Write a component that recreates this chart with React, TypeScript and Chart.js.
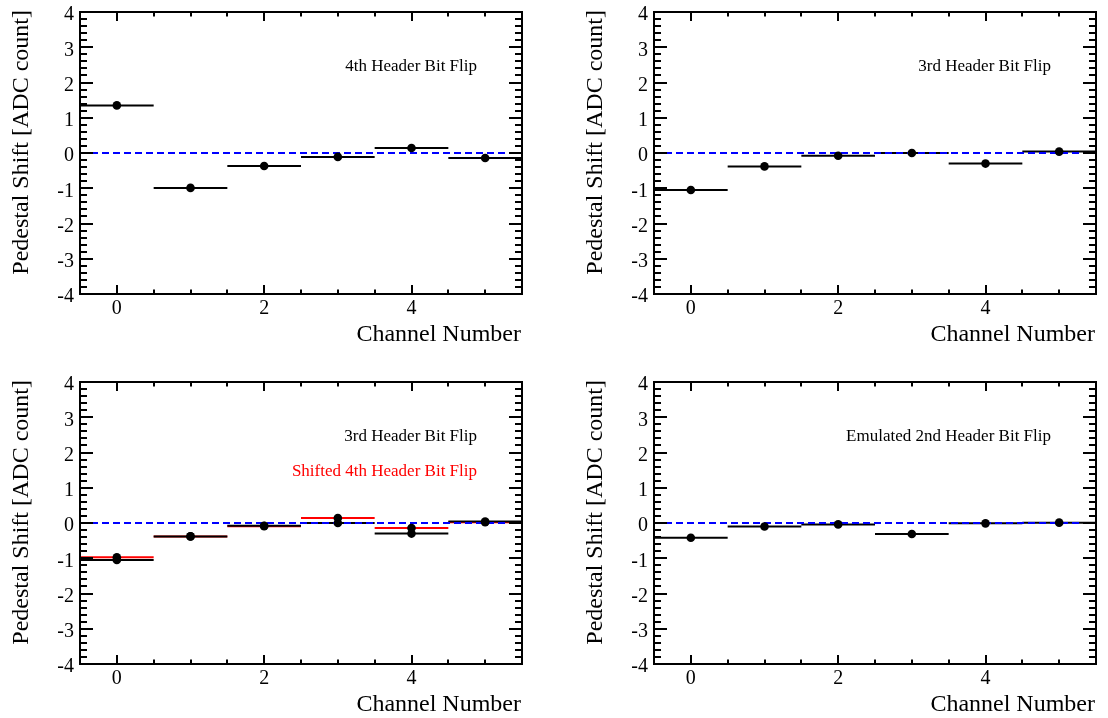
import React, { useEffect, useRef } from 'react';
import { Chart, registerables } from 'chart.js';

Chart.register(...registerables);

// ---------- data ----------
const channels = [0, 1, 2, 3, 4, 5];
const flip4th = [1.35, -0.99, -0.37, -0.11, 0.14, -0.14];
const flip3rd = [-1.05, -0.38, -0.08, 0.0, -0.3, 0.04];
const shifted4th = [-0.97, -0.38, -0.09, 0.14, -0.14, 0.02];
const emulated2nd = [-0.42, -0.1, -0.04, -0.31, -0.01, 0.01];
const xTickLabels = [0, 2, 4];
const yTickLabels = [-4, -3, -2, -1, 0, 1, 2, 3, 4];
const xHalfWidth = 0.5;
const xRange = [-0.5, 5.5];
const yRange = [-4, 4];
const xTitle = 'Channel Number';
const yTitle = 'Pedestal Shift [ADC count]';

const FONT = "'Liberation Serif', 'Times New Roman', serif";

type Series = { values: number[]; color: string; label: string };
type PanelCfg = { left: number; top: number; series: Series[] };

const panels: PanelCfg[] = [
  { left: 0, top: 0, series: [{ values: flip4th, color: '#000000', label: '4th Header Bit Flip' }] },
  { left: 574, top: 0, series: [{ values: flip3rd, color: '#000000', label: '3rd Header Bit Flip' }] },
  {
    left: 0,
    top: 370,
    series: [
      { values: flip3rd, color: '#000000', label: '3rd Header Bit Flip' },
      { values: shifted4th, color: '#ff0000', label: 'Shifted 4th Header Bit Flip' },
    ],
  },
  { left: 574, top: 370, series: [{ values: emulated2nd, color: '#000000', label: 'Emulated 2nd Header Bit Flip' }] },
];

const segments = (vals: number[]) =>
  vals.flatMap((v, i) => [
    { x: channels[i] - xHalfWidth, y: v },
    { x: channels[i] + xHalfWidth, y: v },
    { x: channels[i] + xHalfWidth, y: null as any },
  ]);

const rootStyle = {
  id: 'rootStyle',
  afterDraw(chart: any, _args: any, opts: any) {
    const { ctx, chartArea: a } = chart;
    const x = chart.scales.x;
    const y = chart.scales.y;
    ctx.save();
    ctx.strokeStyle = '#000';
    ctx.lineWidth = 2;
    ctx.beginPath();
    // y ticks (left and right)
    for (let i = 0; i <= 40; i++) {
      const v = yRange[0] + i * 0.2;
      const major = i % 5 === 0;
      const len = major ? 13 : 7;
      const py = Math.round(y.getPixelForValue(v));
      ctx.moveTo(a.left, py);
      ctx.lineTo(a.left + len, py);
      ctx.moveTo(a.right, py);
      ctx.lineTo(a.right - len, py);
    }
    // x ticks (bottom and top)
    for (let i = 1; i < 12; i++) {
      const v = xRange[0] + i * 0.5;
      const major = xTickLabels.includes(v);
      const len = major ? 9 : 4.5;
      const px = Math.round(x.getPixelForValue(v));
      ctx.moveTo(px, a.bottom);
      ctx.lineTo(px, a.bottom - len);
      ctx.moveTo(px, a.top);
      ctx.lineTo(px, a.top + len);
    }
    ctx.stroke();
    // frame
    ctx.strokeRect(a.left, a.top, a.right - a.left, a.bottom - a.top);

    // axis titles
    ctx.fillStyle = '#000';
    ctx.font = `24px ${FONT}`;
    ctx.textBaseline = 'alphabetic';
    ctx.textAlign = 'right';
    ctx.fillText(xTitle, a.right - 1, 341);
    ctx.save();
    ctx.translate(28, a.top - 2);
    ctx.rotate(-Math.PI / 2);
    ctx.textAlign = 'right';
    ctx.fillText(yTitle, 0, 0);
    ctx.restore();

    // legend-like labels
    ctx.font = `17px ${FONT}`;
    ctx.textAlign = 'right';
    (opts.labels || []).forEach((s: Series, k: number) => {
      ctx.fillStyle = s.color;
      ctx.fillText(s.label, 477, 71 + k * 34.5);
    });
    ctx.restore();
  },
};

function Panel({ cfg }: { cfg: PanelCfg }) {
  const ref = useRef<HTMLCanvasElement>(null);
  useEffect(() => {
    const barSets = cfg.series.map((s, k) => ({
      type: 'scatter' as const,
      data: segments(s.values),
      showLine: true,
      spanGaps: false,
      borderColor: s.color,
      borderWidth: 2,
      pointRadius: 0,
      pointHoverRadius: 0,
      order: 2 + k,
    }));
    const zeroLine = {
      type: 'scatter' as const,
      data: [
        { x: xRange[0], y: 0 },
        { x: xRange[1], y: 0 },
      ],
      showLine: true,
      borderColor: '#0000ff',
      borderWidth: 1.8,
      borderDash: [7, 4],
      pointRadius: 0,
      order: 1,
    };
    const markerSets = cfg.series.map((s) => ({
      type: 'scatter' as const,
      data: s.values.map((v, i) => ({ x: channels[i], y: v })),
      showLine: false,
      pointRadius: 4.3,
      pointBackgroundColor: '#000000',
      pointBorderWidth: 0,
      order: 0,
    }));
    const chart = new Chart(ref.current!, {
      type: 'scatter',
      data: { datasets: [...markerSets, zeroLine, ...barSets] as any },
      options: {
        animation: false,
        responsive: false,
        events: [],
        layout: { padding: { top: 12, right: 12, left: 0, bottom: 0 } },
        plugins: {
          legend: { display: false },
          tooltip: { enabled: false },
          title: { display: false },
          rootStyle: { labels: cfg.series },
        } as any,
        scales: {
          x: {
            type: 'linear',
            min: xRange[0],
            max: xRange[1],
            grid: { display: false, drawTicks: false },
            border: { display: false },
            afterBuildTicks: (s: any) => {
              s.ticks = xTickLabels.map((v) => ({ value: v }));
            },
            afterFit: (s: any) => {
              s.height = 76;
              s.paddingLeft = 0;
              s.paddingRight = 0;
              s.paddingTop = 0;
              s.paddingBottom = 0;
            },
            ticks: {
              autoSkip: false,
              maxRotation: 0,
              padding: 3,
              color: '#000',
              font: { family: FONT, size: 20 },
              callback: (v: any) => String(v),
            },
          },
          y: {
            type: 'linear',
            min: yRange[0],
            max: yRange[1],
            grid: { display: false, drawTicks: false },
            border: { display: false },
            afterBuildTicks: (s: any) => {
              s.ticks = yTickLabels.map((v) => ({ value: v }));
            },
            afterFit: (s: any) => {
              s.width = 80;
              s.paddingLeft = 0;
              s.paddingRight = 0;
              s.paddingTop = 0;
              s.paddingBottom = 0;
            },
            ticks: {
              padding: 6,
              labelOffset: 3,
              color: '#000',
              font: { family: FONT, size: 20 },
              callback: (v: any) => String(v),
            },
          },
        },
      },
      plugins: [rootStyle],
    });
    return () => chart.destroy();
  }, []);
  return (
    <canvas
      ref={ref}
      width={534}
      height={370}
      style={{ position: 'absolute', left: cfg.left, top: cfg.top, width: 534, height: 370 }}
    />
  );
}

export default function App() {
  return (
    <div
      style={{
        position: 'fixed',
        left: 0,
        top: 0,
        width: 1108,
        height: 718,
        background: '#ffffff',
        overflow: 'hidden',
      }}
    >
      {panels.map((p, i) => (
        <Panel key={i} cfg={p} />
      ))}
    </div>
  );
}
